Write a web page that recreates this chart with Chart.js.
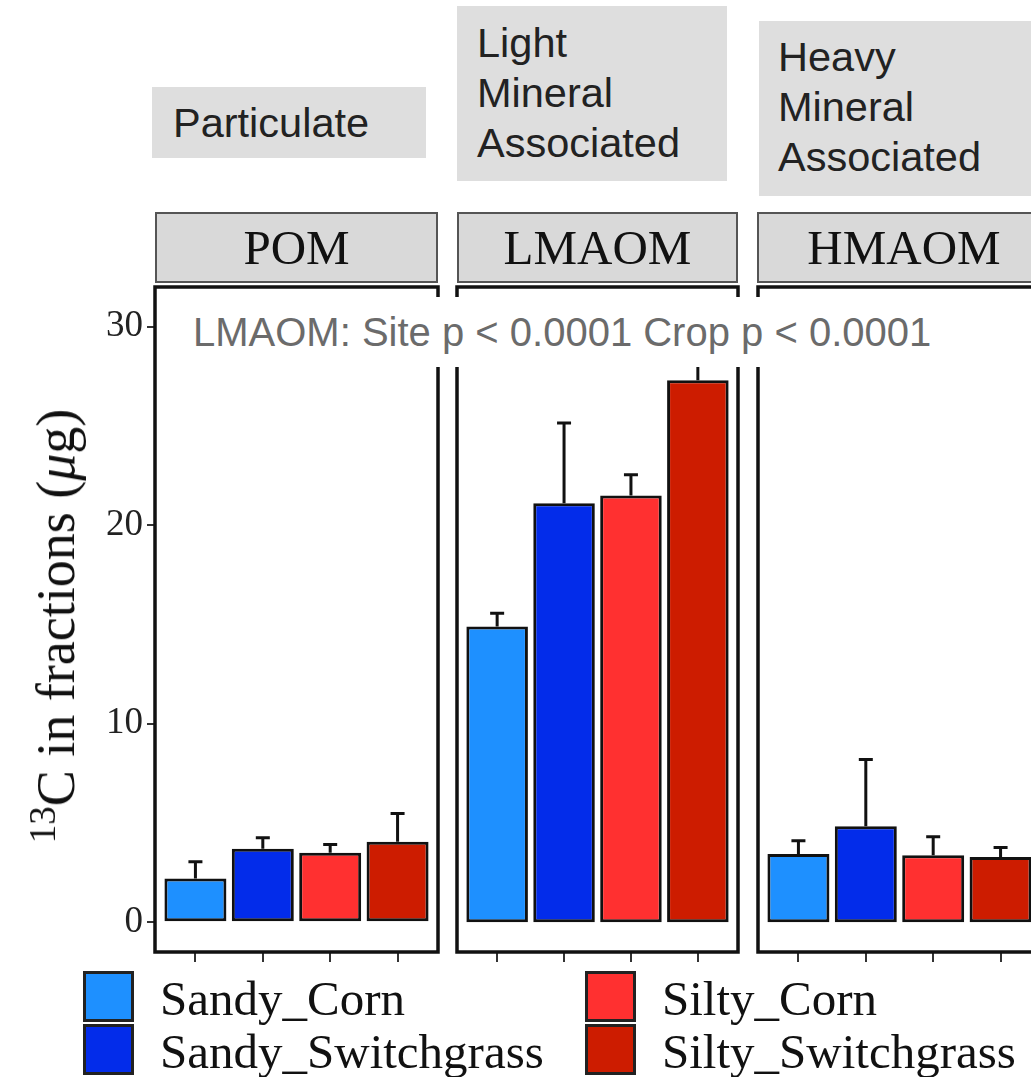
<!DOCTYPE html>
<html>
<head>
<meta charset="utf-8">
<script src="https://cdn.jsdelivr.net/npm/chart.js@4.4.1/dist/chart.umd.min.js"></script>
<style>
  body { margin: 0; background: #fff; overflow: hidden; }
  #page { position: relative; width: 1031px; height: 1077px; overflow: hidden; }
  canvas { position: absolute; }
  .gbox { position: absolute; background: #dedede; font-family: "Liberation Sans", Arial, sans-serif;
          font-size: 41.5px; line-height: 50px; color: #222; }
  .gbox span { position: absolute; white-space: nowrap; }
  .strip { position: absolute; top: 212px; height: 67px; background: #d9d9d9; border: 2px solid #555;
           font-family: "Liberation Serif", "Times New Roman", serif; font-size: 49px; color: #111;
           display: flex; align-items: center; justify-content: center; }
  .leg { position: absolute; width: 45px; height: 45px; border: 3px solid #222; }
  .legtxt { position: absolute; font-family: "Liberation Serif", "Times New Roman", serif; font-size: 49px;
            line-height: 48px; color: #111; white-space: nowrap; }
  #ytitle { position: absolute; left: 56px; top: 626px; transform: translate(-50%, -50%) rotate(-90deg);
            font-family: "Liberation Serif", "Times New Roman", serif; font-size: 54px; color: #111; white-space: nowrap; }
  #ytitle sup { font-size: 37px; vertical-align: 19px; line-height: 0; }
  #note { position: absolute; left: 178px; top: 297px; width: 767px; height: 70px; background: #fff;
          font-family: "Liberation Sans", Arial, sans-serif; font-size: 40px; color: #6b6b6b;
          line-height: 70px; padding-left: 15px; box-sizing: border-box; white-space: nowrap; z-index: 5; }
</style>
</head>
<body>
<div id="page">
  <div class="gbox" style="left:152px; top:87px; width:274px; height:71px;"><span style="left:21px; top:11px;">Particulate</span></div>
  <div class="gbox" style="left:457px; top:6px; width:270px; height:175px;"><span style="left:20px; top:12px;">Light<br>Mineral<br>Associated</span></div>
  <div class="gbox" style="left:759px; top:21px; width:280px; height:175px;"><span style="left:19px; top:11px;">Heavy<br>Mineral<br>Associated</span></div>

  <div class="strip" style="left:155px; width:279px;">POM</div>
  <div class="strip" style="left:457px; width:277px;">LMAOM</div>
  <div class="strip" style="left:757px; width:290px;">HMAOM</div>

  <canvas id="c0" width="440" height="700" style="left:0; top:280px;"></canvas>
  <canvas id="c1" width="286" height="700" style="left:455px; top:280px;"></canvas>
  <canvas id="c2" width="300" height="700" style="left:756px; top:280px;"></canvas>

  <div id="ytitle"><sup>13</sup>C in fractions (<i>μ</i>g)</div>
  <div id="note"></div>

  <div id="legend"></div>
</div>

<script>
const fractions = ["POM", "LMAOM", "HMAOM"];
const treatments = ["Sandy_Corn", "Sandy_Switchgrass", "Silty_Corn", "Silty_Switchgrass"];
const colors = ["#1e90ff", "#032cea", "#ff3030", "#cd1c00"];

const pomMean = [2.2, 3.7, 3.5, 4.05];
const pomSE = [0.85, 0.55, 0.42, 1.43];
const lmaomMean = [14.9, 21.1, 21.5, 27.3];
const lmaomSE = [0.66, 4.05, 1.04, 2.5];
const hmaomMean = [3.44, 4.84, 3.38, 3.28];
const hmaomSE = [0.67, 3.36, 0.92, 0.49];

const yTicks = [0, 10, 20, 30];
const note = "LMAOM: Site p < 0.0001 Crop p < 0.0001";

const means = [pomMean, lmaomMean, hmaomMean];
const ses = [pomSE, lmaomSE, hmaomSE];

document.getElementById("note").textContent = note;

// legend
const legPos = [[83, 971], [83, 1024], [585, 971], [585, 1024]];
const legend = document.getElementById("legend");
treatments.forEach((t, i) => {
  const [x, y] = legPos[i];
  const b = document.createElement("div");
  b.className = "leg";
  b.style.left = x + "px";
  b.style.top = y + "px";
  b.style.background = colors[i];
  legend.appendChild(b);
  const s = document.createElement("div");
  s.className = "legtxt";
  s.style.left = (x + 77) + "px";
  s.style.top = (y + 4) + "px";
  s.textContent = t;
  legend.appendChild(s);
});

const panelDecor = {
  id: "panelDecor",
  afterDatasetsDraw(chart) {
    const ctx = chart.ctx;
    const y = chart.scales.y;
    const se = chart.options.plugins.panelDecor.se;
    const meta = chart.getDatasetMeta(0);
    ctx.save();
    ctx.strokeStyle = "#111";
    ctx.lineWidth = 3;
    meta.data.forEach((bar, i) => {
      const v = chart.data.datasets[0].data[i].y;
      const top = y.getPixelForValue(v + se[i]);
      ctx.beginPath();
      ctx.moveTo(bar.x, bar.y);
      ctx.lineTo(bar.x, top);
      ctx.moveTo(bar.x - 7, top);
      ctx.lineTo(bar.x + 7, top);
      ctx.stroke();
    });
    const a = chart.chartArea;
    ctx.lineWidth = 3.5;
    ctx.strokeRect(a.left, a.top, a.right - a.left, a.bottom - a.top);
    ctx.restore();
  }
};

function makePanel(id, k, first) {
  new Chart(document.getElementById(id), {
    type: "bar",
    data: {
      datasets: [{
        data: means[k].map((v, i) => ({ x: i + 1, y: v })),
        backgroundColor: colors,
        borderColor: "#111",
        borderWidth: 3,
        borderSkipped: false,
        categoryPercentage: 1,
        barPercentage: 0.92
      }]
    },
    options: {
      responsive: false,
      animation: false,
      devicePixelRatio: 1,
      layout: {
        autoPadding: false,
        padding: first ? { top: 7, right: 2, left: 0, bottom: 0 }
                       : { top: 7, right: (k === 1 ? 3 : 15), left: 2, bottom: 0 }
      },
      plugins: {
        legend: { display: false },
        tooltip: { enabled: false },
        panelDecor: { se: ses[k] }
      },
      scales: {
        x: {
          type: "linear",
          min: 0.4,
          max: 4.6,
          offset: false,
          afterBuildTicks: s => { s.ticks = treatments.map((t, i) => ({ value: i + 1 })); },
          afterFit: s => { s.height = 28; s.paddingLeft = 0; s.paddingRight = 0; },
          grid: { offset: false, drawOnChartArea: false, drawTicks: true, tickLength: 10, color: "#333", lineWidth: 2 },
          border: { display: false },
          ticks: { display: false }
        },
        y: {
          display: first,
          min: -1.5,
          max: 32,
          afterBuildTicks: s => { s.ticks = yTicks.map(v => ({ value: v })); },
          afterFit: s => {
            if (first) s.width = 155;
            s.paddingTop = 0;
            s.paddingBottom = 0;
          },
          grid: { drawOnChartArea: false, drawTicks: true, tickLength: 8, color: "#333", lineWidth: 2 },
          border: { display: false },
          ticks: {
            color: "#222",
            padding: 4,
            font: { family: "Liberation Serif", size: 37 }
          }
        }
      }
    },
    plugins: [panelDecor]
  });
}

makePanel("c0", 0, true);
makePanel("c1", 1, false);
makePanel("c2", 2, false);
</script>
</body>
</html>
